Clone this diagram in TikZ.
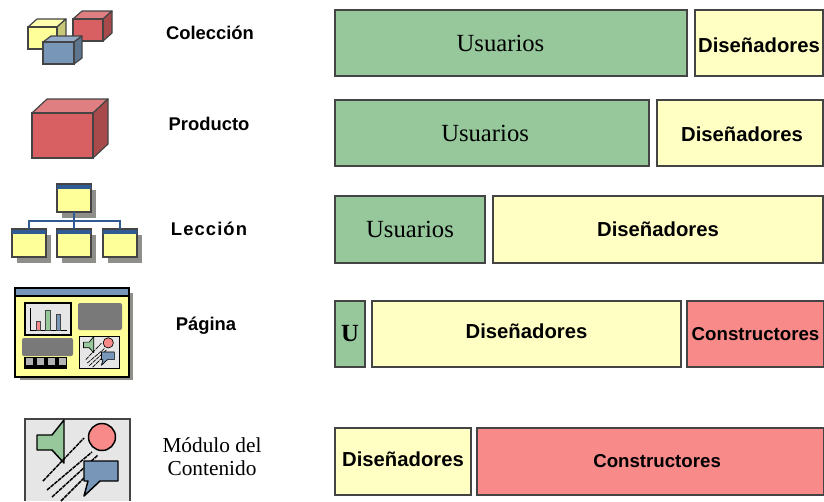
\documentclass[tikz,border=0pt]{standalone}
\usepackage{fontspec}
\setmainfont{Liberation Sans}
\newfontfamily\serifa{Liberation Serif}

\definecolor{verde}{HTML}{96C89C}
\definecolor{crema}{HTML}{FFFFC4}
\definecolor{salmon}{HTML}{F88A8A}
\definecolor{rojo}{HTML}{D85F62}
\definecolor{amarillo}{HTML}{FFFF99}
\definecolor{azul}{HTML}{7896B8}
\definecolor{marino}{HTML}{2F5A94}
\definecolor{sombra}{HTML}{8E8E8A}
\definecolor{claro}{HTML}{E6E6E6}
\definecolor{borde}{HTML}{444444}

\tikzset{
  barra/.style={draw=borde, line width=1pt},
  usu/.style={font=\serifa\fontsize{18.5}{20}\selectfont},
  dis/.style={font=\bfseries\fontsize{15.2}{17}\selectfont},
  con/.style={font=\bfseries\fontsize{14}{16}\selectfont},
  nivel/.style={font=\bfseries\fontsize{13.8}{16}\selectfont},
  ventana/.style={draw=borde, line width=0.9pt, fill=amarillo, inner sep=0pt, minimum width=25pt, minimum height=20pt},
  rama/.style={draw=marino, line width=0.9pt},
  bloque/.style={fill=gray!95!black, rounded corners=1.5pt}
}

% front corners (#2) and (#3), depth (#4)
\newcommand{\cubo}[4]{
  \path (#2) coordinate (fa) (#3) coordinate (fb);
  \draw[borde, line width=0.9pt, line join=round, fill=#1!80!white] (fa) -- ++(#4) -| ([shift={(#4)}]fb |- fa) -- (fb |- fa) -- cycle;
  \draw[borde, line width=0.9pt, line join=round, fill=#1!78!black] (fb |- fa) -- ([shift={(#4)}]fb |- fa) -- ([shift={(#4)}]fb) -- (fb) -- cycle;
  \draw[borde, line width=0.9pt, fill=#1] (fa) rectangle (fb);
}

% window with header and shadow, centred at (#2)
\newcommand{\hoja}[2]{
  \fill[sombra] ([shift={(-12,-8)}]#2) rectangle ([shift={(22,20)}]#2);
  \node[ventana] (#1) at (#2) {};
  \fill[marino] (#1.north west) rectangle ([yshift=-3.6pt]#1.north east);
  \draw[borde, line width=0.9pt] (#1.north west) rectangle (#1.south east);
}

% speaker, circle and speech bubble
\newcommand{\contenido}[2][]{
  \begin{scope}[#1]
    \draw[black, line width=#2, fill=verde, line join=round] (64,420) -- (52,435) -- (37,435) -- (37,450) -- (52,450) -- (64,463) -- cycle;
    \foreach \ax/\ay/\bx/\by in {43/481/84/438, 47/490/92/452, 52/497/98/455, 61/501/84/478}
      \draw[black, line width=#2, dash pattern=on 3pt off 0.6pt] (\ax,\ay) -- (\bx,\by);
    \draw[black, line width=#2, fill=salmon] (102,437) circle (13.5);
    \draw[black, line width=#2, fill=azul, line join=round] (84,461) -- (118,461) -- (118,481) -- (100,481) -- (84,496) -- (88,481) -- (84,481) -- cycle;
  \end{scope}
}

\begin{document}
\begin{tikzpicture}[x=0.75pt, y=-0.75pt]
  \useasboundingbox (0,0) rectangle (824,501);

  % row 1
  \cubo{amarillo}{28,27}{57,49}{9,-8}
  \cubo{rojo}{73,19}{103,41}{9,-8}
  \cubo{azul}{43,42}{74,64}{8,-6}
  \node[nivel] (coleccion) at (210,33) {Colección};
  \draw[barra, fill=verde] (335,10) rectangle (687,76) node[pos=0.47, usu, yshift=-1.5pt] (usuA) {Usuarios};
  \draw[barra, fill=crema] (695,10) rectangle (823,76) node[midway, dis, yshift=-1.5pt] (disA) {Diseñadores};

  % row 2
  \cubo{rojo}{32,113}{93,158}{15,-14}
  \node[nivel] (producto) at (209,124) {Producto};
  \draw[barra, fill=verde] (335,100) rectangle (649,166) node[pos=0.478, usu, yshift=-1.5pt] (usuB) {Usuarios};
  \draw[barra, fill=crema] (657,100) rectangle (823,166) node[pos=0.512, dis, yshift=-0.7pt] (disB) {Diseñadores};

  % row 3
  \hoja{raiz}{74,198}
  \hoja{hijaA}{29,243}
  \hoja{hijaB}{74,243}
  \hoja{hijaC}{120,243}
  \coordinate (bus) at (74,221);
  \draw[rama] (raiz.south) -- (bus);
  \draw[rama] (hijaB.north) -- (bus);
  \draw[rama] (hijaA.north) |- (bus);
  \draw[rama] (hijaC.north) |- (bus);
  \node[nivel] (leccion) at (209,229) {\addfontfeature{LetterSpace=6}Lección};
  \draw[barra, fill=verde] (335,196) rectangle (485,263) node[midway, usu] (usuC) {Usuarios};
  \draw[barra, fill=crema] (493,196) rectangle (823,263) node[midway, dis] (disC) {Diseñadores};

  % row 4
  \fill[sombra] (20,293) rectangle (133,380);
  \draw[black, line width=0.9pt, fill=amarillo] (15,288) rectangle (129,377);
  \draw[black, line width=0.9pt, fill=azul] (15,288) rectangle (129,296);
  \draw[black, line width=0.9pt, fill=claro] (25,303) rectangle (71,335);
  \draw[black, line width=0.7pt] (30,308) |- (67,330);
  \foreach \xa/\xb/\ytop/\tinte in {36/40/321/salmon, 45/50/310/verde, 56/60/314/azul}
    \draw[borde, line width=0.5pt, fill=\tinte] (\xa,\ytop) rectangle (\xb,330);
  \fill[bloque] (78,303) rectangle (122,330);
  \fill[bloque] (22,338) rectangle (73,356);
  \fill[black] (24,357) rectangle (67,369);
  \foreach \xa in {26,37,48,59}
    \fill[gray!60] (\xa,358) rectangle (\xa+7,365);
  \draw[black, line width=0.7pt, fill=claro] (79,336) rectangle (119,368);
  \contenido[shift={(69.5,176.8)}, scale=0.38]{0.5pt}
  \node[nivel] (pagina) at (206,326) {Página};
  \draw[barra, fill=verde] (335,301) rectangle (365,367) node[midway, usu, font=\serifa\bfseries\fontsize{18.5}{20}\selectfont] (usuD) {U};
  \draw[barra, fill=crema] (372,301) rectangle (681,367) node[midway, dis, yshift=2pt] (disD) {Diseñadores};
  \draw[barra, fill=salmon] (687,301) rectangle (824,367) node[midway, con] (conD) {Constructores};

  % row 5
  \fill[claro] (25,419) rectangle (130,501);
  \draw[borde, line width=1pt] (25,501) |- (130,419) -- (130,501);
  \contenido{1.1pt}
  \node[font=\serifa\fontsize{16}{17.5}\selectfont, align=center] (modulo) at (212,457) {Módulo del\\Contenido};
  \draw[barra, fill=crema] (335,428) rectangle (471,495) node[midway, dis, yshift=1.5pt] (disE) {Diseñadores};
  \draw[barra, fill=salmon] (477,428) rectangle (824,495) node[pos=0.519, con, yshift=1.3pt] (conE) {Constructores};
\end{tikzpicture}
\end{document}
